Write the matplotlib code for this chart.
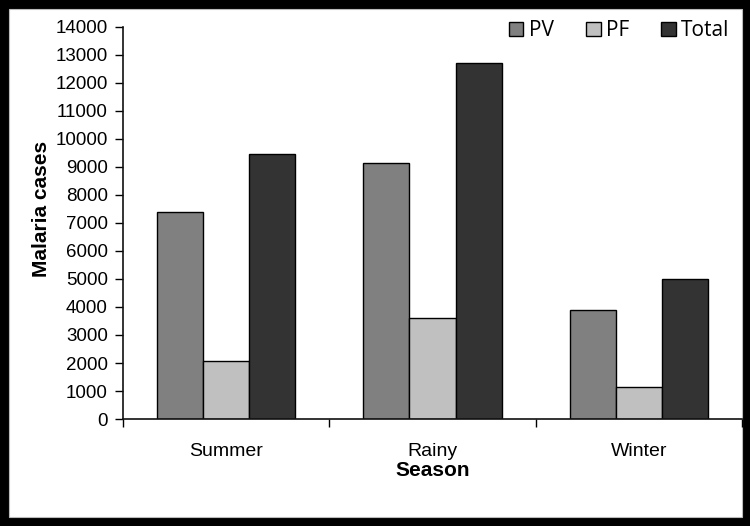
import numpy as np
import matplotlib
matplotlib.use("Agg")
import matplotlib.pyplot as plt
from matplotlib.patches import Rectangle

# data
seasons = ["Summer", "Rainy", "Winter"]
pv = [7400, 9150, 3900]
pf = [2080, 3600, 1130]
total = [9450, 12700, 5000]

series = ["PV", "PF", "Total"]
colors = ["#808080", "#c0c0c0", "#333333"]

plt.rcParams['font.family'] = ['Liberation Sans', 'DejaVu Sans']

W, H = 750, 526
fig = plt.figure(figsize=(7.5, 5.26), dpi=100, facecolor="black")
# white panel inside the black frame
fig.add_artist(Rectangle((9 / W, 9 / H), (742 - 9) / W, (517 - 9) / H,
                         transform=fig.transFigure, facecolor="white",
                         edgecolor="#bbbbbb", lw=0.8, zorder=-1))

ax = fig.add_axes([123 / W, 1 - 419 / H, (742 - 123) / W, (419 - 27) / H])
ax.set_facecolor("none")

x = np.arange(len(seasons))
bw = 0.224
for i, (vals, name, c) in enumerate(zip([pv, pf, total], series, colors)):
    ax.bar(x + (i - 1) * bw, vals, width=bw, color=c, edgecolor="black",
           linewidth=1.0, label=name, zorder=2)

ax.set_xlim(-0.5, 2.5)
ax.set_ylim(0, 14000)
ax.set_yticks(range(0, 14001, 1000))
ax.tick_params(axis="y", labelsize=13.5, length=6, width=1, direction="out", pad=5)

# category ticks sit on the group boundaries
ax.set_xticks([-0.5, 0.5, 1.5, 2.5])
ax.set_xticklabels([])
ax.set_xticks(x, minor=True)
ax.set_xticklabels(seasons, minor=True, fontsize=14)
ax.tick_params(axis="x", which="major", length=6, width=1, direction="out")
ax.tick_params(axis="x", which="minor", length=0, pad=17)

for s in ["top", "right"]:
    ax.spines[s].set_visible(False)
for s in ["left", "bottom"]:
    ax.spines[s].set_linewidth(1.2)
    ax.spines[s].set_color("#111111")

ax.set_xlabel("Season", fontsize=15, fontweight="bold", labelpad=1)
ax.set_ylabel("Malaria cases", fontsize=15, fontweight="bold")
ax.yaxis.set_label_coords(-0.117, 0.535)

leg = ax.legend(loc="upper right", ncol=3, frameon=False,
                bbox_to_anchor=(1.01, 1.065), handlelength=0.7, handleheight=0.7,
                handletextpad=0.25, columnspacing=1.55,
                prop={"family": "Open Sans", "size": 15})

fig.savefig("out.png", dpi=100, facecolor=fig.get_facecolor())
